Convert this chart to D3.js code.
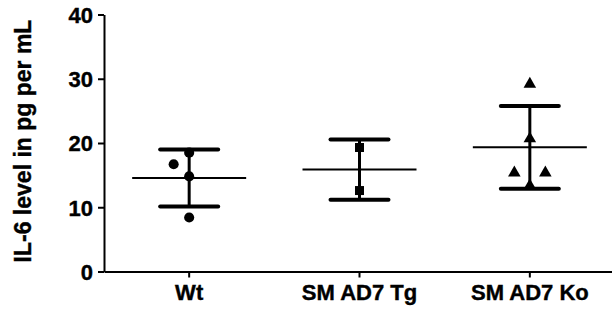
<!DOCTYPE html>
<html>
<head>
<meta charset="utf-8">
<script src="https://cdn.jsdelivr.net/npm/d3@7"></script>
<style>
  body { margin: 0; background: #fff; }
  text { font-family: "Liberation Sans", Arial, sans-serif; font-weight: bold; stroke: #000; stroke-width: 0.4px; }
</style>
</head>
<body>
<svg id="chart" width="612" height="314"></svg>
<script>
const groups = ["Wt", "SMAD7 Tg", "SMAD7 Ko"]
const groupLabels = ["Wt", "SM AD7 Tg", "SM AD7 Ko"]
const wtValues = [18.5, 16.7, 14.8, 8.4]
const tgValues = [19.3, 12.6]
const koValues = [29.4, 20.9, 15.6, 15.6, 13.6]
// side-by-side slot of each point (-1 left, 0 centre, 1 right)
const wtSlots = [0, -1, 0, 0]
const tgSlots = [0, 0]
const koSlots = [0, 0, -1, 1, 0]
const means = [14.55, 15.86, 19.32]
const sds = [4.45, 4.68, 6.43]
const yTicks = [0, 10, 20, 30, 40]
const yTitle = "IL-6 level in pg per mL"

const svg = d3.select("#chart")
const plotLeft = 104, plotRight = 615, plotTop = 14.5, plotBottom = 271.5

const x = d3.scaleBand().domain(groups).range([plotLeft, plotRight]).padding(0)
const y = d3.scaleLinear().domain([0, 40]).range([plotBottom, plotTop])
const cx = g => x(g) + x.bandwidth() / 2

const points = []
;[[wtValues, wtSlots, "circle"], [tgValues, tgSlots, "square"], [koValues, koSlots, "triangle"]]
  .forEach(([vals, slots, shape], i) => {
    vals.forEach((v, j) => points.push({ group: groups[i], value: v, slot: slots[j], shape: shape }))
  })

// error bars
const bars = svg.append("g")
groups.forEach((g, i) => {
  const c = cx(g)
  bars.append("line")
    .attr("x1", c).attr("x2", c)
    .attr("y1", y(means[i] + sds[i])).attr("y2", y(means[i] - sds[i]))
    .attr("stroke", "#000").attr("stroke-width", 3)
  ;[means[i] + sds[i], means[i] - sds[i]].forEach(v => {
    bars.append("line")
      .attr("x1", c - 29).attr("x2", c + 29)
      .attr("y1", y(v)).attr("y2", y(v))
      .attr("stroke", "#000").attr("stroke-width", 4).attr("stroke-linecap", "round")
  })
  bars.append("line")
    .attr("x1", c - 57).attr("x2", c + 57)
    .attr("y1", y(means[i])).attr("y2", y(means[i]))
    .attr("stroke", "#000").attr("stroke-width", 2)
})

const symbolFor = { circle: d3.symbolCircle, square: d3.symbolSquare, triangle: d3.symbolTriangle }
const sizeFor = { circle: 80, square: 81, triangle: 68 }
svg.append("g").selectAll("path")
  .data(points)
  .enter()
  .append("path")
  .attr("d", d => d3.symbol().type(symbolFor[d.shape]).size(sizeFor[d.shape])())
  .attr("transform", d => {
    const dy = d.shape === "triangle" ? 1.5 : 0
    return "translate(" + (cx(d.group) + d.slot * 15.5) + "," + (y(d.value) + dy) + ")"
  })
  .attr("fill", "#000")

// axes
const xAxis = svg.append("g")
  .attr("transform", "translate(0," + plotBottom + ")")
  .call(d3.axisBottom(x).tickSize(6).tickSizeOuter(0).tickFormat((d, i) => groupLabels[i]))
xAxis.select(".domain").attr("stroke-width", 2)
xAxis.selectAll(".tick line").attr("stroke-width", 2)
xAxis.selectAll(".tick text")
  .attr("font-size", 22).attr("font-family", "Liberation Sans, Arial, sans-serif")
  .attr("font-weight", "bold").attr("fill", "#000")
  .attr("y", 28.5).attr("dy", 0)

const yAxis = svg.append("g")
  .attr("transform", "translate(" + plotLeft + ",0)")
  .call(d3.axisLeft(y).tickValues(yTicks).tickSize(6).tickSizeOuter(0))
yAxis.select(".domain").attr("stroke-width", 2)
yAxis.selectAll(".tick line").attr("stroke-width", 2)
yAxis.selectAll(".tick text")
  .attr("font-size", 22).attr("font-family", "Liberation Sans, Arial, sans-serif")
  .attr("font-weight", "bold").attr("fill", "#000")
  .attr("x", -11).attr("dy", "0.36em")

svg.append("text")
  .attr("transform", "translate(31," + ((plotTop + plotBottom) / 2 - 2) + ") rotate(-90)")
  .attr("text-anchor", "middle")
  .attr("font-size", 23)
  .text(yTitle)
</script>
</body>
</html>
